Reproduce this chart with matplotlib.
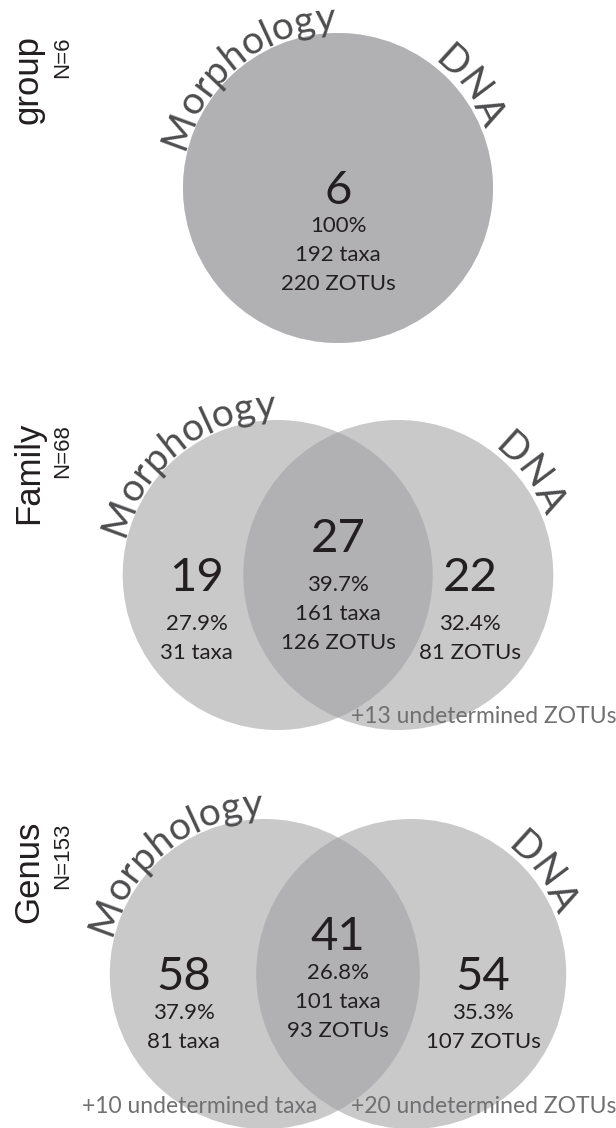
import numpy as np
import matplotlib
matplotlib.use("Agg")
import matplotlib.pyplot as plt
from matplotlib.patches import Circle
from matplotlib.font_manager import FontProperties, findfont, get_font

# --- data -------------------------------------------------------------
levels = ['group', 'Family', 'Genus']
n_total = [6, 68, 153]
shared = [6, 27, 41]
shared_pct = [100, 39.7, 26.8]
shared_taxa = [192, 161, 101]
shared_zotus = [220, 126, 93]
morph_only = [None, 19, 58]
morph_pct = [None, 27.9, 37.9]
morph_taxa = [None, 31, 81]
dna_only = [None, 22, 54]
dna_pct = [None, 32.4, 35.3]
dna_zotus = [None, 81, 107]
undet_taxa = [None, None, 10]
undet_zotus = [None, 13, 20]
set_names = ['Morphology', 'DNA']

# --- layout -----------------------------------------------------------
W, H, DPI = 616, 1128, 100
cx = 338
centers_y = [188, 575, 974]
radius = 155
mid_shift = [0, -39, -40]
line_gap = [36, 47, 37]
line_step = 29

dark = '#231f20'
label_grey = '#4d4d4f'
note_grey = '#707072'
fill = (158 / 255, 159 / 255, 161 / 255)
fill_alpha = 0.556

num_font = FontProperties(family='Lato', size=34)
small_font = FontProperties(family='Lato', size=16)
note_font = FontProperties(family='Lato', size=16.5)
arc_font = FontProperties(family='Lato', size=28)
side_font = FontProperties(family='Liberation Sans', size=25)
nfont = FontProperties(family='Liberation Sans', size=16)

fig = plt.figure(figsize=(W / DPI, H / DPI), dpi=DPI)
ax = fig.add_axes([0, 0, 1, 1])
ax.set_xlim(0, W)
ax.set_ylim(H, 0)
ax.set_aspect('equal')
ax.axis('off')


def advances(s, fp):
    font = get_font(findfont(fp))
    font.set_size(fp.get_size_in_points(), DPI)
    return [font.load_char(ord(c)).linearHoriAdvance / 65536 for c in s]


def arc_text(s, x0, y0, r, mid_deg, fp, color):
    adv = advances(s, fp)
    total = sum(adv)
    pos = np.cumsum([0] + adv[:-1]) + np.array(adv) / 2
    for ch, p in zip(s, pos):
        th = np.radians(mid_deg) + (total / 2 - p) / r
        x = x0 + r * np.cos(th)
        y = y0 - r * np.sin(th)
        ax.text(x, y, ch, fontproperties=fp, color=color, ha='center',
                va='baseline', rotation=np.degrees(th) - 90,
                rotation_mode='anchor')


def block(x, y_big, big, lines, gap):
    # visual centre -> baseline
    ax.text(x, y_big + 16, str(big), fontproperties=num_font, color=dark,
            ha='center', va='baseline')
    for k, ln in enumerate(lines):
        ax.text(x, y_big + gap + k * line_step + 8, ln,
                fontproperties=small_font, color=dark,
                ha='center', va='baseline')


for i, lev in enumerate(levels):
    cy = centers_y[i]
    sep = 200 * (1 - shared[i] / n_total[i])
    xl, xr = cx - sep / 2, cx + sep / 2
    for xc in (xl, xr):
        ax.add_patch(Circle((xc, cy), radius, facecolor=fill,
                            alpha=fill_alpha, edgecolor='none'))

    arc_text(set_names[0], xl, cy, radius + 3, 128.5, arc_font, label_grey)
    arc_text(set_names[1], xr, cy, radius + 3, 37.5, arc_font, label_grey)

    # level label
    ax.text(38, cy - 153, lev, fontproperties=side_font, color=dark,
            rotation=90, rotation_mode='anchor', ha='right', va='baseline')
    ax.text(68, cy - 151, f'N={n_total[i]}', fontproperties=nfont,
            color=dark, rotation=90, rotation_mode='anchor', ha='right',
            va='baseline')

    block(cx, cy + mid_shift[i], shared[i],
          [f'{shared_pct[i]:g}%', f'{shared_taxa[i]} taxa',
           f'{shared_zotus[i]} ZOTUs'], line_gap[i])
    if morph_only[i] is not None:
        block(xl - 81, cy, morph_only[i],
              [f'{morph_pct[i]:g}%', f'{morph_taxa[i]} taxa'], line_gap[i])
    if dna_only[i] is not None:
        block(xr + 72, cy, dna_only[i],
              [f'{dna_pct[i]:g}%', f'{dna_zotus[i]} ZOTUs'], line_gap[i])

    note_y = cy + (140 if i == 1 else 131) + 8
    if undet_zotus[i] is not None:
        ax.text(cx + 13, note_y, f'+{undet_zotus[i]} undetermined ZOTUs',
                fontproperties=note_font, color=note_grey, ha='left',
                va='baseline')
    if undet_taxa[i] is not None:
        ax.text(cx - 21, note_y, f'+{undet_taxa[i]} undetermined taxa',
                fontproperties=note_font, color=note_grey, ha='right',
                va='baseline')

fig.savefig('out.png', dpi=DPI)
